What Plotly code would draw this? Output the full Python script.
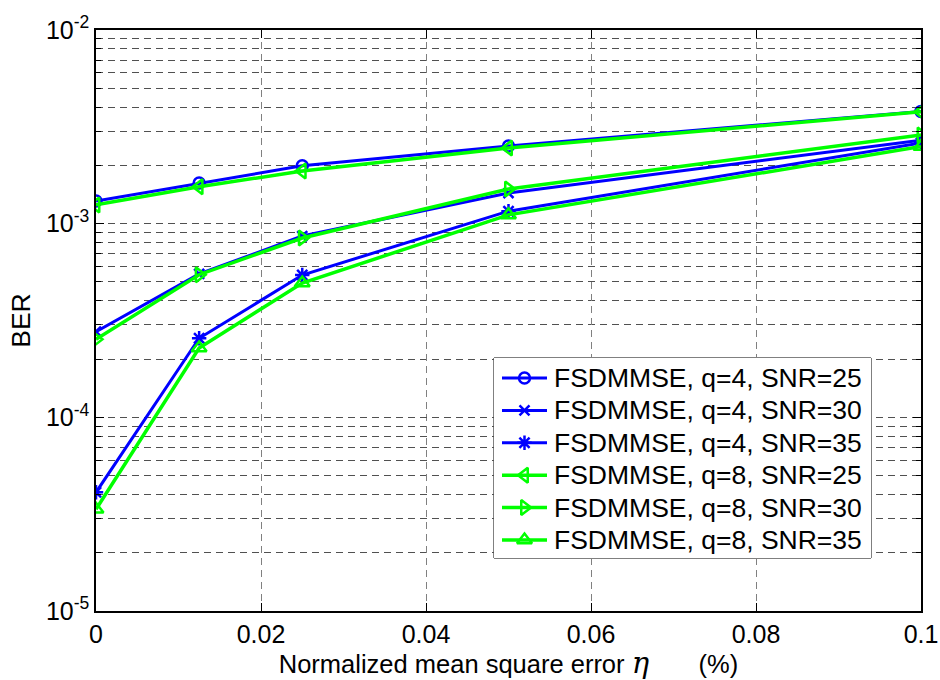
import plotly.graph_objects as go

# Normalized mean square error eta (%)
eta = [0.0, 0.0125, 0.025, 0.05, 0.1]

# BER curves for each FSDMMSE configuration
ber_q4_snr25 = [1.31e-3, 1.62e-3, 1.99e-3, 2.52e-3, 3.80e-3]
ber_q4_snr30 = [2.77e-4, 5.50e-4, 8.63e-4, 1.44e-3, 2.70e-3]
ber_q4_snr35 = [4.10e-5, 2.56e-4, 5.43e-4, 1.16e-3, 2.61e-3]
ber_q8_snr25 = [1.25e-3, 1.55e-3, 1.87e-3, 2.46e-3, 3.78e-3]
ber_q8_snr30 = [2.53e-4, 5.45e-4, 8.43e-4, 1.51e-3, 2.87e-3]
ber_q8_snr35 = [3.35e-5, 2.28e-4, 4.94e-4, 1.11e-3, 2.50e-3]

series_names = [
    "FSDMMSE, q=4, SNR=25",
    "FSDMMSE, q=4, SNR=30",
    "FSDMMSE, q=4, SNR=35",
    "FSDMMSE, q=8, SNR=25",
    "FSDMMSE, q=8, SNR=30",
    "FSDMMSE, q=8, SNR=35",
]

x_ticks = [0, 0.02, 0.04, 0.06, 0.08, 0.1]
x_tick_text = ["0", "0.02", "0.04", "0.06", "0.08", "0.1"]
decades = [-5, -4, -3, -2]

BLUE = "#0000FF"
GREEN = "#00FF00"

styles = [
    (ber_q4_snr25, BLUE, "circle-open", 11, 3),
    (ber_q4_snr30, BLUE, "x-thin-open", 10, 3),
    (ber_q4_snr35, BLUE, "asterisk-open", 12, 3),
    (ber_q8_snr25, GREEN, "triangle-left-open", 13, 3.5),
    (ber_q8_snr30, GREEN, "triangle-right-open", 13, 3.5),
    (ber_q8_snr35, GREEN, "triangle-up-open", 13, 3.5),
]

font_family = "Arial, 'Liberation Sans', sans-serif"
grid_dash = "7px,5px"
tick_font = dict(family=font_family, size=25, color="black")

fig = go.Figure()
for name, (vals, color, symbol, msize, lw) in zip(series_names, styles):
    fig.add_trace(go.Scatter(
        x=eta, y=vals, name=name, mode="lines+markers", showlegend=False,
        line=dict(color=color, width=lw),
        marker=dict(symbol=symbol, size=msize, color=color,
                    line=dict(color=color, width=2.5)),
    ))

# --- boxed legend in its own small panel (x2/y2, units of pixels inside the box)
LEG_W, LEG_H = 377, 200
ROW_TOP, ROW_STEP = 20, 32.4
SAMPLE_X0, SAMPLE_X1, TEXT_X = 8, 53, 58
for i, (name, (vals, color, symbol, msize, lw)) in enumerate(zip(series_names, styles)):
    row_y = ROW_TOP + i * ROW_STEP
    fig.add_trace(go.Scatter(
        x=[SAMPLE_X0, (SAMPLE_X0 + SAMPLE_X1) / 2, SAMPLE_X1], y=[row_y] * 3,
        xaxis="x2", yaxis="y2", mode="lines+markers", showlegend=False,
        hoverinfo="skip",
        line=dict(color=color, width=lw),
        marker=dict(symbol=symbol, size=msize, color=color, opacity=[0, 1, 0],
                    line=dict(color=color, width=2.5)),
    ))
    fig.add_annotation(
        x=TEXT_X, y=row_y, xref="x2", yref="y2", text=name, showarrow=False,
        xanchor="left", yanchor="middle",
        font=dict(family=font_family, size=26.5, color="black"),
    )

fig.add_shape(type="rect", xref="x2 domain", yref="y2 domain",
              x0=0, x1=1, y0=0, y1=1, layer="below",
              fillcolor="white", line=dict(color="black", width=1))

# major ticks at the decades, minor ticks/grid at 2..9 x 10^k
y_major = [10.0 ** d for d in decades]
y_major_text = [f"10<sup>{d}</sup>" for d in decades]
y_minor = [m * 10.0 ** d for d in decades[:-1] for m in range(2, 10)]

# plot area spans 96..921 px horizontally, 30..611 px vertically
plot_l, plot_r, plot_t, plot_b = 96, 921, 30, 611
leg_l, leg_t = 494, 358
pw, ph = plot_r - plot_l, plot_b - plot_t

fig.update_layout(
    width=940, height=680,
    margin=dict(l=plot_l, r=940 - plot_r, t=plot_t, b=680 - plot_b),
    paper_bgcolor="white", plot_bgcolor="white",
    font=dict(family=font_family, size=25, color="black"),
    xaxis=dict(
        range=[0, 0.1], tickvals=x_ticks, ticktext=x_tick_text, tickfont=tick_font,
        showline=True, linecolor="black", linewidth=1.5, mirror="ticks",
        ticks="inside", ticklen=8, tickcolor="black",
        showgrid=True, gridcolor="#808080", gridwidth=1, griddash=grid_dash,
        zeroline=False, automargin=False,
        title=dict(text="Normalized mean square error <i><span style=\"font-family:'DejaVu Serif';font-size:29px\">η</span></i>"
                        "\u00a0\u00a0\u00a0\u00a0\u00a0\u00a0\u00a0(%)",
                   font=dict(family=font_family, size=25.5), standoff=8),
    ),
    yaxis=dict(
        type="log", range=[-5, -2], tickvals=y_major, ticktext=y_major_text, tickfont=tick_font,
        showline=True, linecolor="black", linewidth=1.5, mirror="ticks",
        ticks="inside", ticklen=8, tickcolor="black",
        showgrid=True, gridcolor="#505050", gridwidth=1, griddash=grid_dash,
        minor=dict(tickvals=y_minor, ticks="inside", ticklen=5, tickcolor="black",
                   showgrid=True, gridcolor="#505050", gridwidth=1, griddash=grid_dash),
        zeroline=False, automargin=False,
        title=dict(text="BER", font=dict(family=font_family, size=26.5), standoff=8),
    ),
    xaxis2=dict(
        domain=[(leg_l - plot_l) / pw, (leg_l + LEG_W - plot_l) / pw],
        range=[0, LEG_W], visible=False, anchor="y2", fixedrange=True,
    ),
    yaxis2=dict(
        domain=[(plot_b - leg_t - LEG_H) / ph, (plot_b - leg_t) / ph],
        range=[LEG_H, 0], visible=False, anchor="x2", fixedrange=True,
    ),
)

fig.write_html("out.html")
